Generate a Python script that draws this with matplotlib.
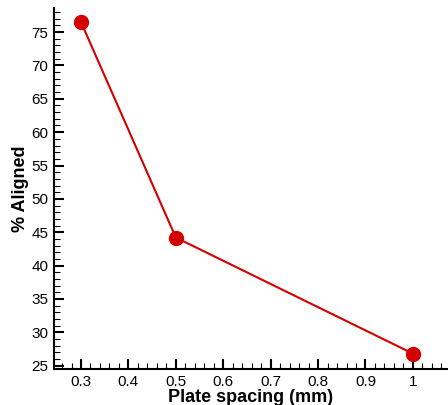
import matplotlib
matplotlib.use("Agg")
import matplotlib.pyplot as plt
from matplotlib.ticker import MultipleLocator

plt.rcParams['font.family'] = ['Liberation Sans', 'DejaVu Sans']

spacing = [0.3, 0.5, 1.0]
aligned = [76.5, 44.2, 26.8]
xticks = [0.3, 0.4, 0.5, 0.6, 0.7, 0.8, 0.9, 1.0]
xticklabels = ['0.3', '0.4', '0.5', '0.6', '0.7', '0.8', '0.9', '1']
yticks = [25, 30, 35, 40, 45, 50, 55, 60, 65, 70, 75]

fig = plt.figure(figsize=(4.48, 4.05), dpi=100)
ax = fig.add_axes([0.1205, 0.089, 0.8795, 0.891])
ax.plot(spacing, aligned, color='#d40000', lw=1.5, marker='o', ms=10,
        mfc='#d40000', mec='#d40000', clip_on=False, zorder=3)
ax.set_xlim(0.243, 1.074)
ax.set_ylim(24.5, 78.6)
ax.set_xticks(xticks)
ax.set_xticklabels(xticklabels)
ax.set_yticks(yticks)
ax.xaxis.set_minor_locator(MultipleLocator(0.02))
ax.yaxis.set_minor_locator(MultipleLocator(1))
for s in ['top', 'right']:
    ax.spines[s].set_visible(False)
for s in ['left', 'bottom']:
    ax.spines[s].set_linewidth(1.5)
ax.tick_params(which='major', direction='in', length=7, width=1.5, labelsize=11, pad=4)
ax.tick_params(which='minor', direction='in', length=4, width=0.8)
ax.set_xlabel('Plate spacing (mm)', fontsize=13, fontweight='bold', labelpad=0)
ax.set_ylabel('% Aligned', fontsize=13, fontweight='bold', labelpad=2)
fig.savefig('out.png', dpi=100)
